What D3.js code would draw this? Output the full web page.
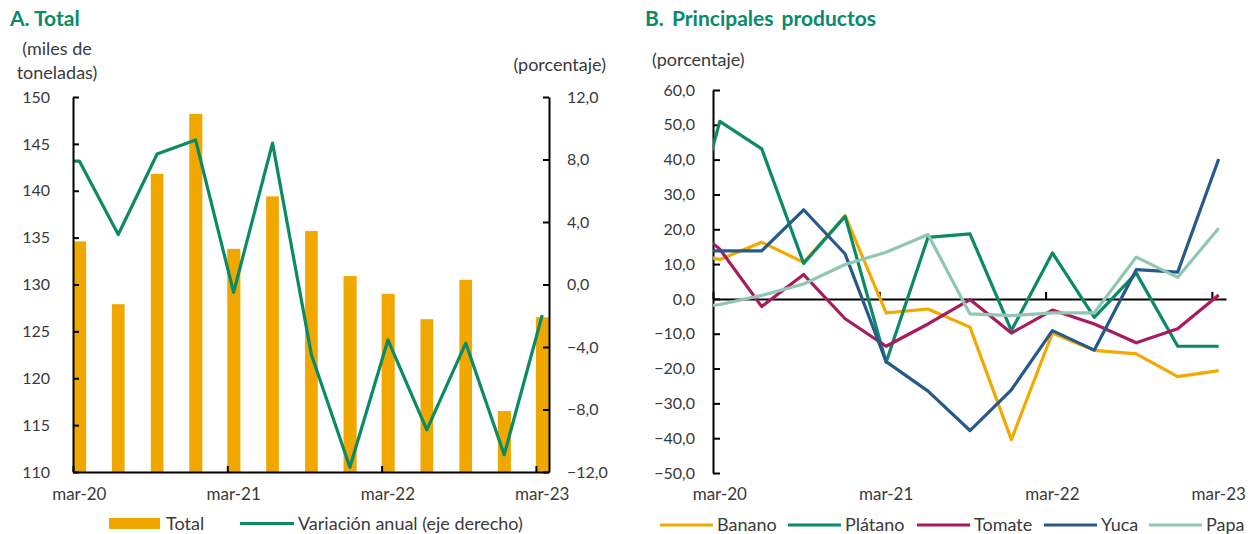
<!DOCTYPE html>
<html>
<head>
<meta charset="utf-8">
<script src="https://cdn.jsdelivr.net/npm/d3@7"></script>
<style>
  body { margin: 0; background: #fff; }
  svg text { font-family: Lato, "Noto Sans", sans-serif; fill: #3a3a3a; }
  .title { font-weight: bold; fill: #0a8a68; }
</style>
</head>
<body>
<div id="stage"></div>
<script>
// quarterly data, dic-19 is only there to draw the clipped start of the lines
const quarters = ["dic-19", "mar-20", "jun-20", "sep-20", "dic-20", "mar-21", "jun-21", "sep-21", "dic-21", "mar-22", "jun-22", "sep-22", "dic-22", "mar-23"];
const total = [null, 134.6, 127.9, 141.8, 148.2, 133.8, 139.4, 135.7, 130.9, 129.0, 126.3, 130.5, 116.5, 126.5];
const variacion = [7.9, 7.9, 3.2, 8.35, 9.25, -0.5, 9.05, -4.5, -11.7, -3.55, -9.3, -3.75, -10.9, -1.95];

const banano = [14, 11.3, 16.3, 10.5, 23.9, -4.0, -2.9, -8.1, -40.4, -9.8, -14.8, -15.8, -22.3, -20.6];
const platano = [7, 51.0, 43.1, 10.2, 23.7, -18.2, 17.7, 18.7, -9.1, 13.2, -5.3, 7.4, -13.6, -13.6];
const tomate = [24, 14.3, -2.2, 7.0, -5.7, -13.6, -7.2, -0.2, -9.8, -3.2, -7.2, -12.6, -8.6, 1.1];
const yuca = [13.8, 13.8, 13.8, 25.6, 12.9, -18.0, -26.5, -37.8, -26.1, -9.1, -14.7, 8.4, 7.7, 40.2];
const papa = [-3, -1.6, 1.0, 4.3, 9.9, 13.4, 18.5, -4.3, -4.8, -4.0, -4.0, 12.0, 6.2, 20.3];

const xTickLabels = ["mar-20", "mar-21", "mar-22", "mar-23"];
const leftTicks = [110, 115, 120, 125, 130, 135, 140, 145, 150];
const rightTicks = [-12, -8, -4, 0, 4, 8, 12];
const panelBTicks = [-50, -40, -30, -20, -10, 0, 10, 20, 30, 40, 50, 60];

const products = [
  { name: "Banano", values: banano, color: "#f2a900" },
  { name: "Plátano", values: platano, color: "#0b8a66" },
  { name: "Tomate", values: tomate, color: "#a81b5e" },
  { name: "Yuca", values: yuca, color: "#275a8a" },
  { name: "Papa", values: papa, color: "#8fc7b0" }
];

const fmt = d => d3.format(".1f")(d).replace(".", ",");

// month slot helpers (date axis, base unit months)
const monthStart = i => new Date(Date.UTC(2019, 11 + 3 * i, 1));
const monthMid = i => new Date(Date.UTC(2019, 11 + 3 * i, 16));
const tickDates = xTickLabels.map((d, k) => new Date(Date.UTC(2020 + k, 2, 1)));
const tickMids = xTickLabels.map((d, k) => new Date(Date.UTC(2020 + k, 2, 16)));
const xDomain = [new Date(Date.UTC(2020, 2, 1)), new Date(Date.UTC(2023, 3, 1))];

const svg = d3.select("#stage").append("svg")
  .attr("width", 1254)
  .attr("height", 534);

const styleAxis = g => {
  g.select(".domain").attr("stroke", "#000").attr("stroke-width", 2);
  g.selectAll(".tick line").attr("stroke", "#000").attr("stroke-width", 2);
  g.selectAll("text").attr("font-size", 16).attr("fill", "#3a3a3a");
};

// ---------- A. Total ----------
const A = { left: 73, right: 549, top: 97, bottom: 472 };

svg.append("text").attr("class", "title").attr("x", 10).attr("y", 26)
  .attr("font-size", 21).text("A. Total");
svg.append("text").attr("x", 57).attr("y", 55).attr("text-anchor", "middle")
  .attr("font-size", 18).text("(miles de");
svg.append("text").attr("x", 57).attr("y", 79).attr("text-anchor", "middle")
  .attr("font-size", 18).text("toneladas)");
svg.append("text").attr("x", 606).attr("y", 71).attr("text-anchor", "end")
  .attr("font-size", 18).text("(porcentaje)");

const xA = d3.scaleUtc().domain(xDomain).range([A.left, A.right]);
const yL = d3.scaleLinear().domain([110, 150]).range([A.bottom, A.top]);
const yR = d3.scaleLinear().domain([-12, 12]).range([A.bottom, A.top]);

svg.append("clipPath").attr("id", "clipA").append("rect")
  .attr("x", A.left).attr("y", 0).attr("width", A.right - A.left).attr("height", 534);

const gA = svg.append("g").attr("clip-path", "url(#clipA)");

gA.selectAll("rect.bar")
  .data(total.map((v, i) => ({ v, i })).filter(d => d.v !== null))
  .join("rect")
  .attr("class", "bar")
  .attr("x", d => xA(monthStart(d.i)))
  .attr("width", d => xA(monthStart(d.i + 1 / 3)) - xA(monthStart(d.i)))
  .attr("y", d => yL(d.v))
  .attr("height", d => yL(110) - yL(d.v))
  .attr("fill", "#f0a800");

gA.append("path")
  .attr("d", d3.line().x((d, i) => xA(monthMid(i))).y(d => yR(d))(variacion))
  .attr("fill", "none")
  .attr("stroke", "#0b8a66")
  .attr("stroke-width", 3.2)
  .attr("stroke-linejoin", "round");

svg.append("g").attr("transform", `translate(${A.left},0)`)
  .call(d3.axisLeft(yL).tickValues(leftTicks).tickSizeInner(-6).tickSizeOuter(0).tickPadding(23))
  .call(styleAxis);

svg.append("g").attr("transform", `translate(${A.right},0)`)
  .call(d3.axisRight(yR).tickValues(rightTicks).tickFormat(fmt).tickSizeInner(-6).tickSizeOuter(0).tickPadding(18))
  .call(styleAxis);

svg.append("g").attr("transform", `translate(0,${A.bottom})`)
  .call(d3.axisBottom(xA).tickValues(tickDates).tickFormat("").tickSizeInner(-6).tickSizeOuter(0))
  .call(styleAxis);

svg.selectAll("text.xa")
  .data(xTickLabels)
  .join("text")
  .attr("class", "xa")
  .attr("x", (d, k) => xA(tickMids[k]))
  .attr("y", 500)
  .attr("text-anchor", "middle")
  .attr("font-size", 17)
  .text(d => d);

// legend A
svg.append("rect").attr("x", 109).attr("y", 518).attr("width", 51).attr("height", 11).attr("fill", "#f0a800");
svg.append("text").attr("x", 166).attr("y", 530).attr("font-size", 18).text("Total");
svg.append("line").attr("x1", 240).attr("x2", 294).attr("y1", 523.5).attr("y2", 523.5)
  .attr("stroke", "#0b8a66").attr("stroke-width", 3.2);
svg.append("text").attr("x", 298).attr("y", 530).attr("font-size", 18).text("Variación anual (eje derecho)");

// ---------- B. Principales productos ----------
const B = { left: 713, right: 1226, top: 90, bottom: 473 };

svg.append("text").attr("class", "title").attr("x", 645).attr("y", 26)
  .attr("font-size", 21).attr("word-spacing", 3).text("B. Principales productos");
svg.append("text").attr("x", 652).attr("y", 66).attr("font-size", 18).text("(porcentaje)");

const xB = d3.scaleUtc().domain(xDomain).range([B.left, B.right]);
const yB = d3.scaleLinear().domain([-50, 60]).range([B.bottom, B.top]);

svg.append("clipPath").attr("id", "clipB").append("rect")
  .attr("x", B.left).attr("y", 0).attr("width", B.right - B.left + 4).attr("height", 534);

svg.append("g").attr("transform", `translate(${B.left},0)`)
  .call(d3.axisLeft(yB).tickValues(panelBTicks).tickFormat(fmt).tickSizeInner(-7).tickSizeOuter(0).tickPadding(18))
  .call(styleAxis);

svg.append("g").attr("transform", `translate(0,${yB(0)})`)
  .call(d3.axisBottom(xB).tickValues(tickDates).tickFormat("").tickSizeInner(-7).tickSizeOuter(0))
  .call(styleAxis);

const gB = svg.append("g").attr("clip-path", "url(#clipB)");
const lineB = d3.line().x((d, i) => xB(monthMid(i))).y(d => yB(d));

gB.selectAll("path.prod")
  .data(products)
  .join("path")
  .attr("class", "prod")
  .attr("d", d => lineB(d.values))
  .attr("fill", "none")
  .attr("stroke", d => d.color)
  .attr("stroke-width", 3.2)
  .attr("stroke-linejoin", "round");

svg.selectAll("text.xb")
  .data(xTickLabels)
  .join("text")
  .attr("class", "xb")
  .attr("x", (d, k) => xB(tickMids[k]))
  .attr("y", 500)
  .attr("text-anchor", "middle")
  .attr("font-size", 17)
  .text(d => d);

// legend B
const legX = [660, 788, 917, 1044, 1149];
const legB = svg.append("g").selectAll("g")
  .data(products)
  .join("g")
  .attr("transform", (d, i) => `translate(${legX[i]},0)`);
legB.append("line").attr("x1", 0).attr("x2", 53).attr("y1", 525).attr("y2", 525)
  .attr("stroke", d => d.color).attr("stroke-width", 3.2);
legB.append("text").attr("x", 57).attr("y", 531).attr("font-size", 18).text(d => d.name);
</script>
</body>
</html>
